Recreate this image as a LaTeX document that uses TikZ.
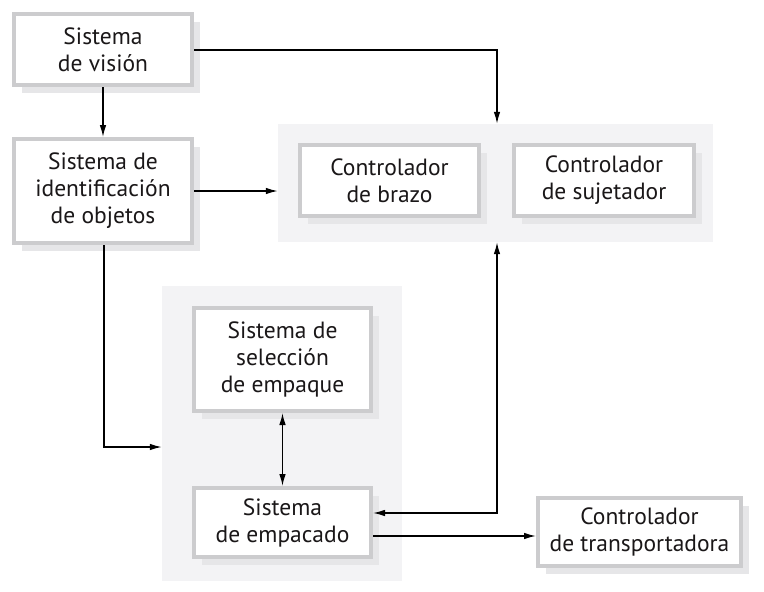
\documentclass[tikz,border=0pt]{standalone}
\usepackage{fontspec}
\setmainfont{PT Sans}
\usetikzlibrary{arrows.meta,shadows,calc}
\definecolor{boxborder}{HTML}{CCCCCE}
\definecolor{boxshadow}{HTML}{E6E6E8}
\definecolor{groupfill}{HTML}{F3F3F5}
\definecolor{txt}{HTML}{1A1718}
\begin{document}
\begin{tikzpicture}[x=1pt,y=-1pt,
  blk/.style={draw=boxborder,line width=4pt,fill=white,inner sep=0pt,
    align=center,text=txt,font=\fontsize{23.5}{27}\selectfont,
    general shadow={fill=boxshadow,shadow xshift=8pt,shadow yshift=-8pt}},
  grp/.style={fill=groupfill,draw=none,inner sep=0pt},
  conn/.style={line width=1.3pt,draw=black},
  tip/.style={-{Latex[length=12pt,width=6.5pt]}},
  both/.style={{Latex[length=12pt,width=6.5pt]}-{Latex[length=12pt,width=6.5pt]}}]
\useasboundingbox (0,0) rectangle (764,592);
% groups
\node[grp,minimum width=435pt,minimum height=118pt] (g1) at (495.5,183) {};
\node[grp,minimum width=240pt,minimum height=295pt] (g2) at (282,433.5) {};
% blocks
\node[blk,minimum width=178pt,minimum height=71pt] (vision) at (103,49.5) {Sistema\\de visión};
\node[blk,minimum width=178pt,minimum height=104pt] (ident) at (103,191) {Sistema de\\identificación\\de objetos};
\node[blk,minimum width=179pt,minimum height=71pt] (brazo) at (389.5,180.5) {Controlador\\de brazo};
\node[blk,minimum width=180pt,minimum height=71pt] (sujet) at (604,180.5) {Controlador\\de sujetador};
\node[blk,minimum width=177pt,minimum height=103pt] (selec) at (282.5,359.5) {Sistema de\\selección\\de empaque};
\node[blk,minimum width=177pt,minimum height=69pt] (empac) at (282.5,522.5) {Sistema\\de empacado};
\node[blk,minimum width=203pt,minimum height=68pt] (transp) at (639.5,532) {Controlador\\de transportadora};
% helper coordinates
\coordinate (c1) at (497,50);
\coordinate (c2) at (104,447);
\coordinate (c3) at (497,513);
\coordinate (c4) at (0,536);
% connectors
\draw[conn,tip] (vision.east |- c1) -- (c1) -- (c1 |- g1.north);
\draw[conn,tip] (vision.south) -- (ident.north);
\draw[conn,tip] (ident.east) -- (ident.east -| g1.west);
\draw[conn,tip] (ident.south -| c2) -- (c2) -- (c2 -| g2.west);
\draw[conn,both] (selec.south) -- (empac.north);
\draw[conn,both] (empac.east |- c3) -- (c3) -- (c3 |- g1.south);
\draw[conn,tip] (empac.east |- c4) -- (transp.west |- c4);
\end{tikzpicture}
\end{document}
